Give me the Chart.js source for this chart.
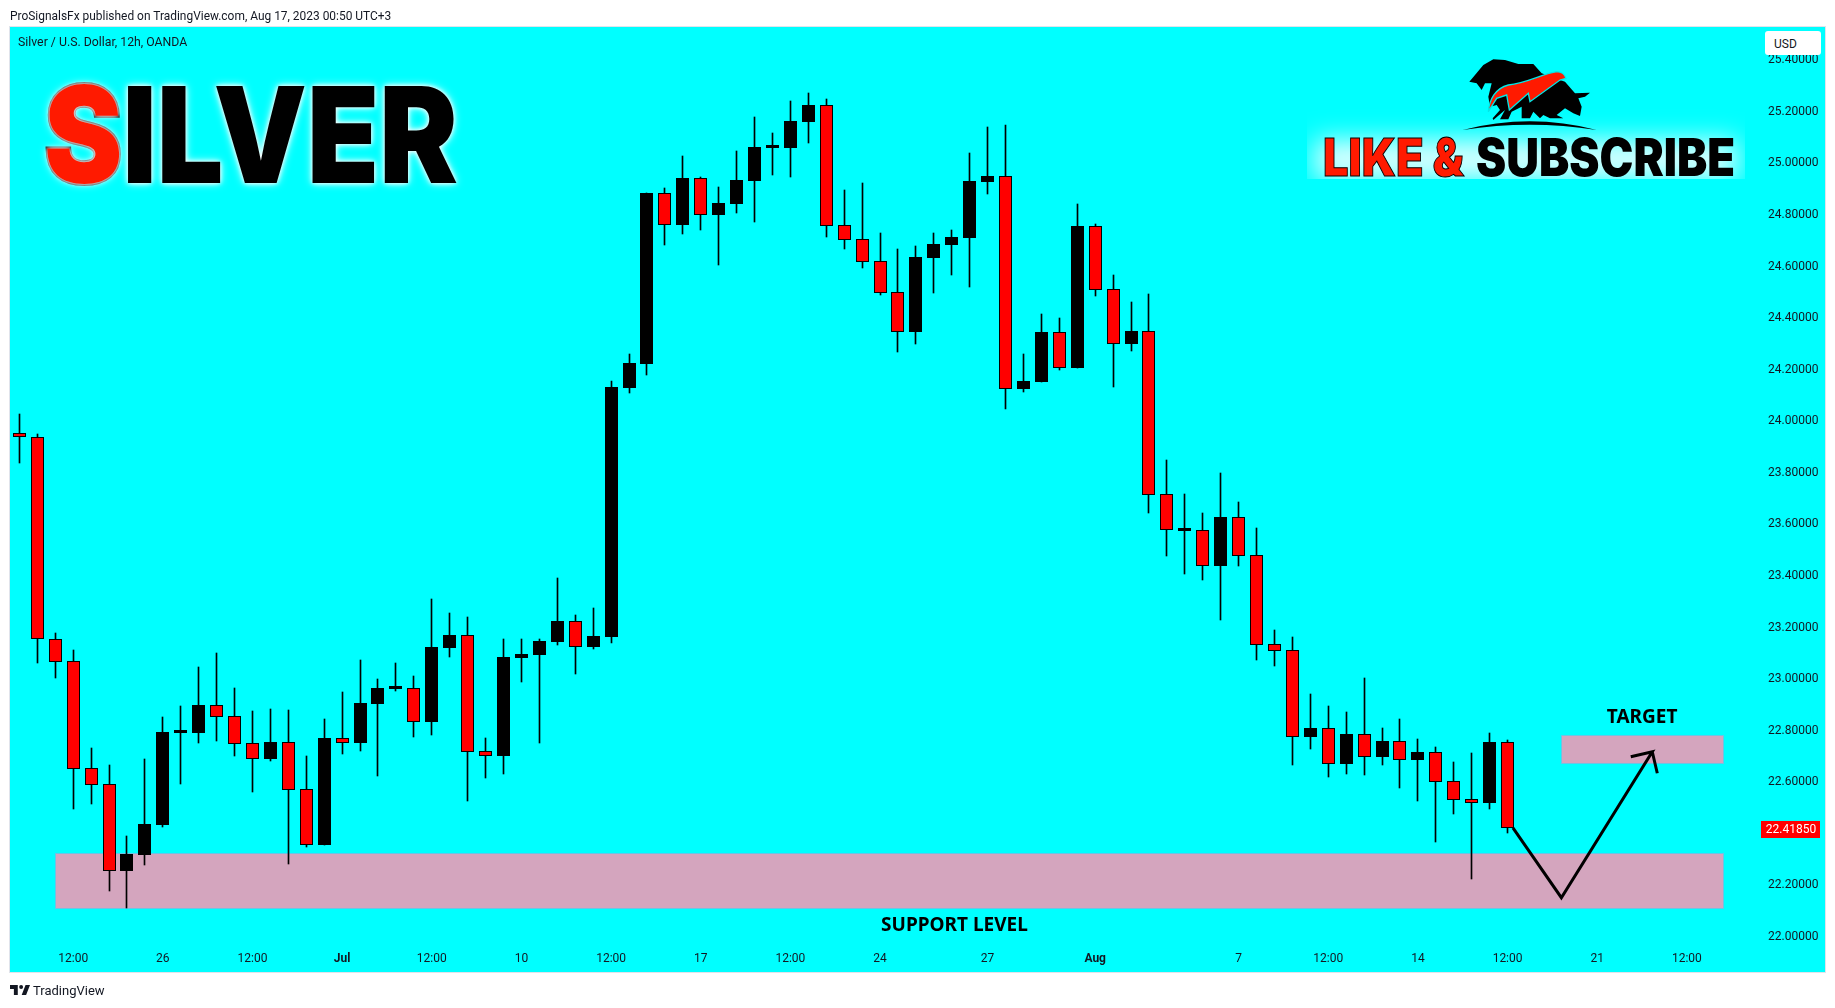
<!DOCTYPE html>
<html>
<head>
<meta charset="utf-8">
<title>Silver / U.S. Dollar</title>
<script src="https://cdn.jsdelivr.net/npm/chart.js@4/dist/chart.umd.min.js"></script>
<style>
  html, body { margin: 0; padding: 0; background: #fff; overflow: hidden; }
  #wrap { position: relative; width: 1835px; height: 1008px; overflow: hidden; }
  #myChart { position: absolute; left: 0; top: 0; }
  .txt { position: absolute; white-space: nowrap; color: #131722; font-family: Roboto, sans-serif; transform-origin: left top; }
  .big { position: absolute; white-space: nowrap; font-family: Inter, Roboto, sans-serif; font-weight: 900; transform-origin: left top; line-height: 1; }
  #usd { position: absolute; left: 1765px; top: 31px; width: 56px; height: 24px; background: #fff; border-radius: 3px; }
  #glowBox { position: absolute; left: 1307px; top: 108px; width: 438px; height: 71px; overflow: hidden; }
  #glowBox div { position: absolute; left: 8px; top: 32px; width: 422px; height: 40px; background: rgba(255,255,255,.85); filter: blur(13px); }
</style>
</head>
<body>
<div id="wrap">
  <canvas id="myChart" width="1835" height="1008"></canvas>

  <div class="txt" style="left:10px;top:8px;font-size:13px;transform:scaleX(.918);">ProSignalsFx published on TradingView.com, Aug 17, 2023 00:50 UTC+3</div>
  <div class="txt" style="left:18px;top:34px;font-size:13px;transform:scaleX(.944);">Silver / U.S. Dollar, 12h, OANDA</div>

  <div id="usd"></div>
  <div class="txt" style="left:1774px;top:37px;font-size:12px;">USD</div>

  <div id="glowBox"><div></div></div>
  <svg style="position:absolute;left:1450px;top:50px" width="160" height="90" viewBox="0 0 480 270">
    <path fill="#000" d="M58 95 L75 75 L100 45 L130 28 L165 30 L205 42 L250 42 L275 70 L345 95 L375 130 L420 128 L405 140 L385 145 L395 170 L390 198 L370 190 L345 175 L320 195 L340 205 L300 205 L280 195 L270 205 L250 185 L240 205 L215 205 L215 170 L185 185 L175 208 L150 208 L165 180 L130 210 L128 205 L150 180 L140 165 L120 170 L115 140 L125 100 L105 100 L95 120 L80 100 Z"/>
    <path fill="#000" d="M38 240 Q240 188 440 240 Q240 208 38 240 Z"/>
    <path fill="#ff1a00" stroke="#00e8e8" stroke-width="4" d="M115 185 C118 150 135 115 175 105 C230 100 280 70 320 65 C335 65 345 75 348 85 L330 90 L240 155 L235 130 L178 180 L170 135 L140 145 Z"/>
  </svg>
  <div class="big" id="likeText" data-w="141" style="left:1323px;top:132px;font-size:52px;color:#ff1a00;-webkit-text-stroke:1px #000;">LIKE &amp;</div>
  <div class="big" id="subText" data-w="259" style="left:1476px;top:132px;font-size:52px;color:#000;">SUBSCRIBE</div>

  <div class="big" id="silverText" data-w="414" style="left:44px;top:67px;font-size:134px;color:#000;text-shadow:0 0 9px #fff,0 0 5px #fff;"><span style="color:#ff1a00;-webkit-text-stroke:4px #000;paint-order:stroke fill;">S</span>ILVER</div>

  <svg style="position:absolute;left:10px;top:985px" width="20" height="10" viewBox="0 0 36 18">
    <path fill="#131722" d="M14 0H0v7h7v11h7zM36 0 29 18H21L28 0z"/>
    <circle fill="#131722" cx="20" cy="3.5" r="3.5"/>
  </svg>
  <div class="txt" style="left:33px;top:983px;font-size:13px;">TradingView</div>
</div>

<script>
// 12h candles
const opens = [23.952,23.934,23.150,23.065,22.650,22.588,22.253,22.314,22.430,22.788,22.787,22.894,22.852,22.747,22.686,22.751,22.569,22.353,22.766,22.748,
  22.900,22.958,22.960,22.830,23.117,23.166,22.716,22.698,23.078,23.090,23.140,23.221,23.119,23.159,24.125,24.218,24.880,24.757,24.938,24.796,
  24.838,24.927,25.055,25.055,25.156,25.222,24.757,24.703,24.617,24.497,24.342,24.629,24.679,24.706,24.924,24.947,24.121,24.148,24.342,24.202,
  24.753,24.509,24.295,24.346,23.713,23.572,23.573,23.435,23.623,23.476,23.131,23.108,22.772,22.805,22.667,22.782,22.694,22.755,22.682,22.712,
  22.600,22.530,22.516,22.751];
const highs = [24.023,23.945,23.174,23.109,22.728,22.663,22.388,22.686,22.849,22.892,23.043,23.097,22.962,22.872,22.880,22.876,22.698,22.841,22.946,23.070,
  22.997,23.059,23.008,23.307,23.252,23.237,22.768,23.152,23.152,23.152,23.388,23.245,23.272,24.152,24.257,24.881,24.900,25.024,24.943,24.904,
  25.044,25.176,25.114,25.238,25.269,25.245,24.893,24.920,24.726,24.664,24.675,24.726,24.737,25.036,25.137,25.145,24.257,24.412,24.396,24.838,
  24.761,24.563,24.458,24.489,23.846,23.714,23.640,23.795,23.683,23.582,23.187,23.159,22.938,22.892,22.869,23.000,22.807,22.841,22.764,22.733,
  22.675,22.710,22.787,22.760];
const lows = [23.835,23.060,23.002,22.492,22.512,22.176,22.109,22.275,22.424,22.589,22.748,22.756,22.698,22.558,22.679,22.279,22.346,22.353,22.706,22.717,
  22.620,22.950,22.772,22.779,23.082,22.523,22.613,22.628,22.985,22.748,23.128,23.016,23.113,23.136,24.105,24.175,24.679,24.722,24.737,24.602,
  24.803,24.769,24.951,24.943,25.075,24.710,24.664,24.590,24.485,24.264,24.295,24.493,24.563,24.516,24.877,24.043,24.109,24.148,24.195,24.202,
  24.482,24.129,24.268,23.640,23.473,23.404,23.380,23.225,23.435,23.070,23.047,22.663,22.725,22.617,22.628,22.624,22.663,22.574,22.523,22.366,
  22.474,22.222,22.492,22.401];
const closes = [23.934,23.150,23.064,22.649,22.587,22.253,22.318,22.434,22.791,22.791,22.896,22.850,22.746,22.688,22.752,22.567,22.354,22.768,22.750,22.903,
  22.962,22.960,22.831,23.121,23.167,22.715,22.698,23.082,23.093,23.144,23.221,23.121,23.163,24.129,24.222,24.881,24.758,24.939,24.797,24.842,
  24.931,25.059,25.059,25.160,25.222,24.754,24.699,24.613,24.493,24.342,24.633,24.683,24.710,24.927,24.947,24.121,24.152,24.342,24.202,24.753,
  24.505,24.295,24.346,23.711,23.576,23.577,23.435,23.625,23.475,23.130,23.106,22.773,22.807,22.668,22.783,22.695,22.756,22.684,22.713,22.598,
  22.529,22.517,22.752,22.4185];

// axes
const priceTicks = [22.0,22.2,22.6,22.8,23.0,23.2,23.4,23.6,23.8,24.0,24.2,24.4,24.6,24.8,25.0,25.2,25.4];
const timeTickIndex = [3,8,13,18,23,28,33,38,43,48,54,60,68,73,78,83,88,93];
const timeTickLabels = ['12:00','26','12:00','Jul','12:00','10','12:00','17','12:00','24','27','Aug','7','12:00','14','12:00','21','12:00'];
const boldLabels = ['Jul','Aug'];
const lastPrice = 22.4185;

// drawings on the chart
const zoneNames = ['SUPPORT LEVEL','TARGET'];
const zoneStart = [2,86];
const zoneEnd = [95,95];
const zoneTop = [22.3207,22.78];
const zoneBottom = [22.1074,22.67];
const zoneLabelX = [52.15,90.5];
const zoneLabelY = [22.039,22.845];
const arrowX = [83.3,86.0,91.07,89.87,91.07,91.35];
const arrowY = [22.419,22.1485,22.7146,22.695,22.7146,22.631];

const indexes = closes.map((c, i) => i);
const uiFont = 'Roboto, sans-serif';

// stretch the heavy logo words to the width they have in the picture
document.querySelectorAll('.big').forEach(function (el) {
    const w = el.getBoundingClientRect().width;
    el.style.transform = 'scaleX(' + (parseFloat(el.dataset.w) / w) + ')';
});

const background = {
    id: 'background',
    beforeDraw(chart) {
        const ctx = chart.ctx;
        ctx.save();
        ctx.fillStyle = '#ffffff';
        ctx.fillRect(0, 0, 1835, 1008);
        ctx.fillStyle = '#00ffff';
        ctx.fillRect(10, 27, 1815, 945);
        ctx.strokeStyle = '#e0e3eb';
        ctx.lineWidth = 1;
        ctx.strokeRect(9.5, 26.5, 1816, 946);
        ctx.restore();
    }
};

// put every candle on whole pixels, like the original
const snapBars = {
    id: 'snapBars',
    afterDatasetsUpdate(chart) {
        [0, 1].forEach(function (d) {
            chart.getDatasetMeta(d).data.forEach(function (bar) {
                bar.x = Math.round(bar.x - 0.5) + 0.5;
                bar.y = Math.round(bar.y);
                bar.base = Math.round(bar.base);
            });
        });
    }
};

const zones = {
    id: 'zones',
    beforeDatasetsDraw(chart) {
        const ctx = chart.ctx;
        const x = chart.scales.x;
        const y = chart.scales.y;
        ctx.save();
        zoneNames.forEach(function (name, i) {
            const left = Math.round(x.getPixelForValue(zoneStart[i]));
            const right = Math.round(x.getPixelForValue(zoneEnd[i]));
            const top = Math.round(y.getPixelForValue(zoneTop[i]));
            const bottom = Math.round(y.getPixelForValue(zoneBottom[i]));
            ctx.fillStyle = '#d4a5be';
            ctx.fillRect(left, top, right - left, bottom - top);
            ctx.strokeStyle = '#6cc4e4';
            ctx.lineWidth = 1;
            ctx.strokeRect(left + 0.5, top + 0.5, right - left, bottom - top);
        });
        ctx.restore();
    },
    afterDraw(chart) {
        const ctx = chart.ctx;
        const x = chart.scales.x;
        const y = chart.scales.y;
        ctx.save();
        ctx.font = 'bold 19px "Noto Sans", sans-serif';
        ctx.fillStyle = '#000000';
        ctx.textAlign = 'center';
        ctx.textBaseline = 'middle';
        zoneNames.forEach(function (name, i) {
            ctx.fillText(name, x.getPixelForValue(zoneLabelX[i]), y.getPixelForValue(zoneLabelY[i]));
        });
        // last price tag
        const py = y.getPixelForValue(lastPrice);
        ctx.fillStyle = '#ff0000';
        ctx.fillRect(1761, Math.round(py) - 7, 59, 17);
        ctx.fillStyle = '#ffffff';
        ctx.font = '12px ' + uiFont;
        ctx.fillText(lastPrice.toFixed(5), 1791, py + 2);
        ctx.restore();
    }
};

new Chart(document.getElementById('myChart').getContext('2d'), {
    type: 'bar',
    data: {
        datasets: [{
            label: 'Wicks',
            data: indexes.map(i => ({ x: i, y: [lows[i], highs[i]] })),
            backgroundColor: '#000000',
            barThickness: 1,
            grouped: false,
            order: 2
        }, {
            label: 'Candles',
            data: indexes.map(i => ({ x: i, y: [opens[i], closes[i]] })),
            backgroundColor: indexes.map(i => closes[i] >= opens[i] ? '#000000' : '#ff0000'),
            borderColor: '#000000',
            borderWidth: 1,
            borderSkipped: false,
            inflateAmount: 0,
            barThickness: 13,
            minBarLength: 3,
            grouped: false,
            order: 1
        }, {
            type: 'line',
            label: 'Arrow',
            data: arrowX.map((v, i) => ({ x: v, y: arrowY[i] })),
            borderColor: '#000000',
            borderWidth: 3,
            pointRadius: 0,
            tension: 0,
            clip: false,
            order: 0
        }]
    },
    options: {
        responsive: false,
        animation: false,
        layout: { padding: { left: 10, top: 27, right: 10, bottom: 36 } },
        plugins: { legend: { display: false }, tooltip: { enabled: false } },
        scales: {
            x: {
                type: 'linear',
                offset: false,
                min: -0.524,
                max: 97.19,
                grid: { display: false, drawTicks: false },
                border: { display: false },
                afterBuildTicks: function (s) { s.ticks = timeTickIndex.map(v => ({ value: v })); },
                afterFit: function (s) { s.height = 27; },
                ticks: {
                    autoSkip: false,
                    maxRotation: 0,
                    padding: 7,
                    color: '#131722',
                    font: function (c) {
                        const label = timeTickLabels[timeTickIndex.indexOf(c.tick ? c.tick.value : -1)];
                        return { family: uiFont, size: 12, weight: boldLabels.includes(label) ? 'bold' : 'normal' };
                    },
                    callback: function (value) { return timeTickLabels[timeTickIndex.indexOf(value)]; }
                }
            },
            y: {
                position: 'right',
                min: 21.965,
                max: 25.525,
                grid: { display: false, drawTicks: false },
                border: { display: false },
                afterBuildTicks: function (s) { s.ticks = priceTicks.map(v => ({ value: v })); },
                afterFit: function (s) { s.width = 63; },
                ticks: {
                    autoSkip: false,
                    padding: 6,
                    labelOffset: 1,
                    color: '#131722',
                    font: { family: uiFont, size: 12 },
                    callback: function (value) { return value.toFixed(5); }
                }
            }
        }
    },
    plugins: [background, snapBars, zones]
});
</script>
</body>
</html>
